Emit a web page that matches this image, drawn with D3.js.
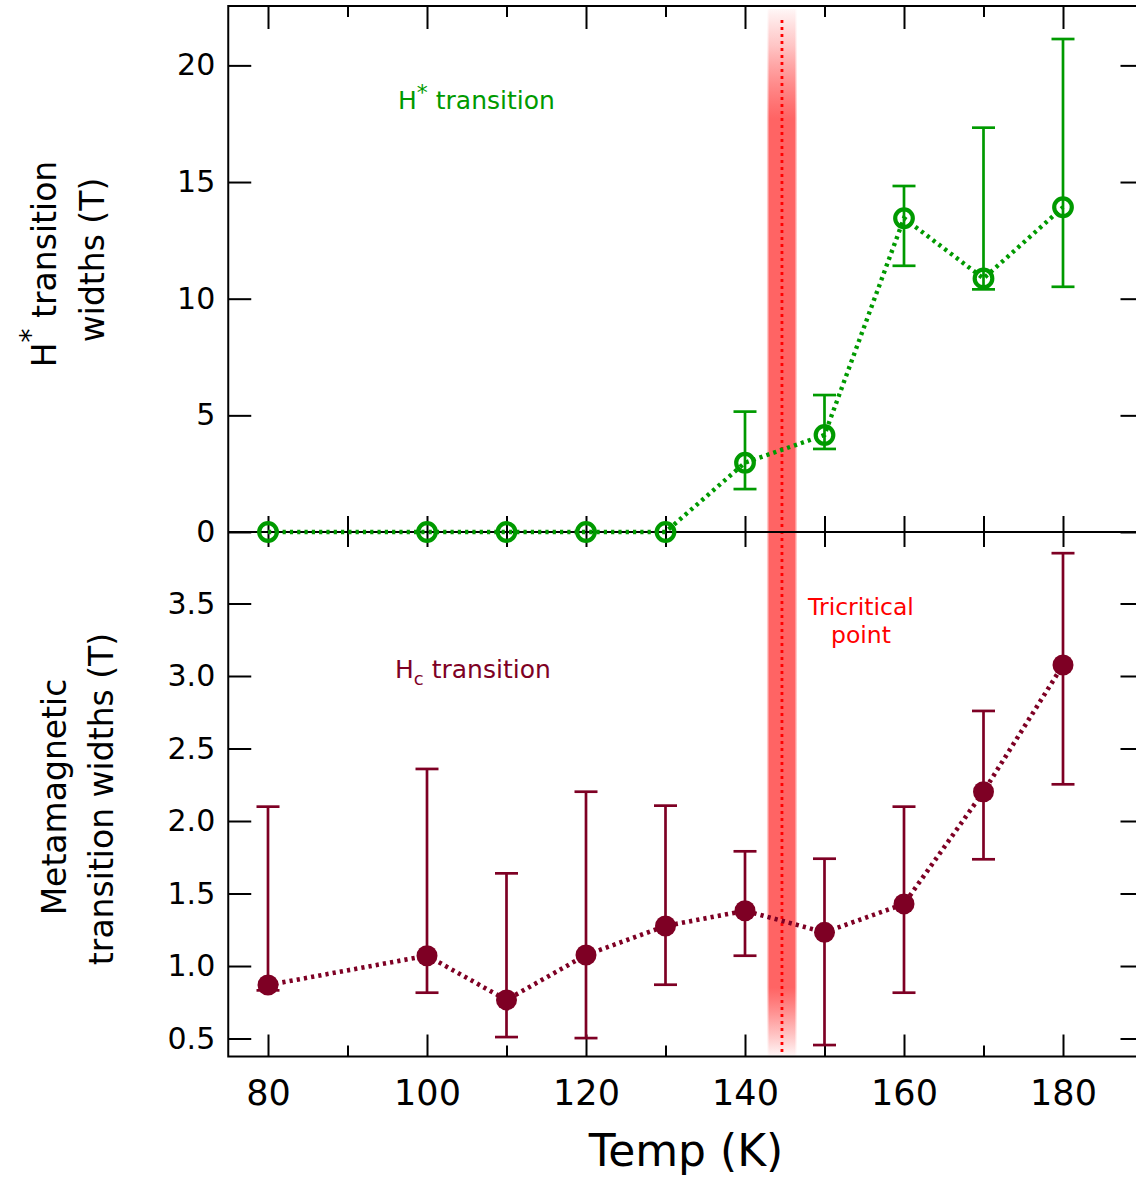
<!DOCTYPE html>
<html><head><meta charset="utf-8">
<script src="https://cdn.jsdelivr.net/npm/d3@7"></script>
<style>body{margin:0;background:#fff} svg{display:block} text{font-family:"DejaVu Sans",sans-serif}</style>
</head><body><svg id="c" width="1136" height="1179"></svg>
<script>
// ---- data ----
const temps   = [80, 100, 110, 120, 130, 140, 150, 160, 170, 180];
const hStar   = [0, 0, 0, 0, 0, 2.97, 4.16, 13.45, 10.87, 13.92];
const hStarLo = [null, null, null, null, null, 1.84, 3.56, 11.41, 10.40, 10.51];
const hStarHi = [null, null, null, null, null, 5.16, 5.87, 14.83, 17.33, 21.13];
const hc      = [0.869, 1.071, 0.766, 1.076, 1.276, 1.381, 1.232, 1.428, 2.202, 3.076];
const hcLo    = [0.832, 0.816, 0.510, 0.503, 0.871, 1.071, 0.455, 0.816, 1.736, 2.253];
const hcHi    = [2.099, 2.359, 1.639, 2.202, 2.106, 1.791, 1.740, 2.099, 2.759, 3.847];
const tricritical = 144.65, tricriticalHalf = 1.7;
const xMajor = [80, 100, 120, 140, 160, 180];
const xMinor = [90, 110, 130, 150, 170];
const yTopTicks = [0, 5, 10, 15, 20];
const yBotTicks = [0.5, 1.0, 1.5, 2.0, 2.5, 3.0, 3.5];

const GREEN = "#009a00", DRED = "#7e0024", RED = "#ff0000";

const svg = d3.select("#c");
const L = 228.25, R = 1142.5, T = 6, M = 532, B = 1056.5;
const x = d3.scaleLinear().domain([75, 190]).range([L, R]);
const yTop = d3.scaleLinear().domain([0, 22.545]).range([M, T]);
const yBot = d3.scaleLinear().domain([0.376, 3.993]).range([B, M]);

// ---- band gradient ----
const defs = svg.append("defs");
const g = defs.append("linearGradient").attr("id", "bandGrad")
  .attr("x1", 0).attr("y1", 0).attr("x2", 0).attr("y2", 1);
[[0, 0.04], [0.035, 0.3], [0.07, 0.65], [0.105, 1], [0.935, 1], [0.97, 0.45], [1, 0.04]]
  .forEach(([o, a]) => g.append("stop").attr("offset", o).attr("stop-color", "#ff6464").attr("stop-opacity", a));

const bx0 = x(tricritical - tricriticalHalf), bx1 = x(tricritical + tricriticalHalf);
svg.append("rect").attr("x", bx0 - 1.5).attr("y", T + 3).attr("width", bx1 - bx0 + 3).attr("height", B - T - 4)
  .attr("fill", "url(#bandGrad)").attr("opacity", 0.35);
svg.append("rect").attr("x", bx0).attr("y", T + 3).attr("width", bx1 - bx0).attr("height", B - T - 4)
  .attr("fill", "url(#bandGrad)");
svg.append("line").attr("x1", x(tricritical)).attr("x2", x(tricritical)).attr("y1", 20).attr("y2", B)
  .attr("stroke", RED).attr("stroke-width", 2.8).attr("stroke-dasharray", "3,4");

// ---- axes ----
function styleAxis(sel) {
  sel.select(".domain").remove();
  sel.selectAll(".tick line").attr("stroke", "#000").attr("stroke-width", 2);
  sel.selectAll(".tick text").attr("fill", "#000");
}
svg.append("g").attr("transform", `translate(0,${T})`)
  .call(d3.axisTop(x).tickValues(xMajor).tickSize(-23).tickFormat("")).call(styleAxis);
svg.append("g").attr("transform", `translate(0,${T})`)
  .call(d3.axisTop(x).tickValues(xMinor).tickSize(-11).tickFormat("")).call(styleAxis);
svg.append("g").attr("transform", `translate(0,${M})`)
  .call(d3.axisBottom(x).tickValues(xMajor.concat(xMinor)).tickSize(15).tickFormat("")).call(styleAxis);
svg.append("g").attr("transform", `translate(0,${M})`)
  .call(d3.axisTop(x).tickValues(xMajor.concat(xMinor)).tickSize(16).tickFormat("")).call(styleAxis);
const bAx = svg.append("g").attr("transform", `translate(0,${B})`)
  .call(d3.axisBottom(x).tickValues(xMajor).tickSize(-22).tickPadding(24).tickFormat(d3.format("d")));
styleAxis(bAx);
bAx.selectAll(".tick text").attr("font-size", 35).attr("font-family", "DejaVu Sans");
svg.append("g").attr("transform", `translate(0,${B})`)
  .call(d3.axisBottom(x).tickValues(xMinor).tickSize(-11).tickFormat("")).call(styleAxis);
const lt = svg.append("g").attr("transform", `translate(${L},0)`)
  .call(d3.axisLeft(yTop).tickValues(yTopTicks).tickSize(-23).tickPadding(13).tickFormat(d3.format("d")));
styleAxis(lt);
lt.selectAll(".tick text").attr("font-size", 30).attr("font-family", "DejaVu Sans");
const lb = svg.append("g").attr("transform", `translate(${L},0)`)
  .call(d3.axisLeft(yBot).tickValues(yBotTicks).tickSize(-23).tickPadding(13).tickFormat(d3.format(".1f")));
styleAxis(lb);
lb.selectAll(".tick text").attr("font-size", 30).attr("font-family", "DejaVu Sans");
svg.append("g").attr("transform", `translate(${R},0)`)
  .call(d3.axisRight(yTop).tickValues(yTopTicks).tickSize(-22).tickFormat("")).call(styleAxis);
svg.append("g").attr("transform", `translate(${R},0)`)
  .call(d3.axisRight(yBot).tickValues(yBotTicks).tickSize(-22).tickFormat("")).call(styleAxis);

svg.append("rect").attr("x", L).attr("y", T).attr("width", R - L).attr("height", B - T)
  .attr("fill", "none").attr("stroke", "#000").attr("stroke-width", 2);
svg.append("line").attr("x1", L).attr("x2", R).attr("y1", M).attr("y2", M)
  .attr("stroke", "#000").attr("stroke-width", 2);

// ---- top series ----
const topData = temps.map((t, i) => ({t, v: hStar[i], lo: hStarLo[i], hi: hStarHi[i]}));
svg.append("path").datum(topData)
  .attr("d", d3.line().x(d => x(d.t)).y(d => yTop(d.v)))
  .attr("fill", "none").attr("stroke", GREEN).attr("stroke-width", 4.4).attr("stroke-dasharray", "3.2,4.1");
const topErr = svg.append("g").selectAll("g").data(topData.filter(d => d.lo !== null)).join("g")
  .attr("stroke", GREEN).attr("stroke-width", 2.7);
topErr.append("line").attr("x1", d => x(d.t)).attr("x2", d => x(d.t)).attr("y1", d => yTop(d.lo)).attr("y2", d => yTop(d.hi));
topErr.append("line").attr("x1", d => x(d.t) - 11.5).attr("x2", d => x(d.t) + 11.5).attr("y1", d => yTop(d.lo)).attr("y2", d => yTop(d.lo));
topErr.append("line").attr("x1", d => x(d.t) - 11.5).attr("x2", d => x(d.t) + 11.5).attr("y1", d => yTop(d.hi)).attr("y2", d => yTop(d.hi));
svg.append("g").selectAll("circle").data(topData).join("circle")
  .attr("cx", d => x(d.t)).attr("cy", d => yTop(d.v)).attr("r", 8.8)
  .attr("fill", "none").attr("stroke", GREEN).attr("stroke-width", 4.2);

// ---- bottom series ----
const botData = temps.map((t, i) => ({t, v: hc[i], lo: hcLo[i], hi: hcHi[i]}));
svg.append("path").datum(botData)
  .attr("d", d3.line().x(d => x(d.t)).y(d => yBot(d.v)))
  .attr("fill", "none").attr("stroke", DRED).attr("stroke-width", 4.6).attr("stroke-dasharray", "3.2,4.1");
const botErr = svg.append("g").selectAll("g").data(botData).join("g")
  .attr("stroke", DRED).attr("stroke-width", 2.7);
botErr.append("line").attr("x1", d => x(d.t)).attr("x2", d => x(d.t)).attr("y1", d => yBot(d.lo)).attr("y2", d => yBot(d.hi));
botErr.append("line").attr("x1", d => x(d.t) - 11.5).attr("x2", d => x(d.t) + 11.5).attr("y1", d => yBot(d.lo)).attr("y2", d => yBot(d.lo));
botErr.append("line").attr("x1", d => x(d.t) - 11.5).attr("x2", d => x(d.t) + 11.5).attr("y1", d => yBot(d.hi)).attr("y2", d => yBot(d.hi));
svg.append("g").selectAll("circle").data(botData).join("circle")
  .attr("cx", d => x(d.t)).attr("cy", d => yBot(d.v)).attr("r", 10.5).attr("fill", DRED);

// ---- annotations ----
const t1 = svg.append("text").attr("x", 398).attr("y", 109).attr("font-size", 25).attr("fill", GREEN);
t1.append("tspan").text("H");
t1.append("tspan").attr("dy", -9).attr("font-size", 22).text("*");
t1.append("tspan").attr("dy", 9).text(" transition");

const t2 = svg.append("text").attr("x", 395).attr("y", 678).attr("font-size", 25).attr("fill", DRED);
t2.append("tspan").text("H");
t2.append("tspan").attr("dy", 7).attr("font-size", 18).text("c");
t2.append("tspan").attr("dy", -7).text(" transition");

svg.append("text").attr("x", 861).attr("y", 615).attr("font-size", 23.5).attr("fill", RED)
  .attr("text-anchor", "middle").text("Tricritical");
svg.append("text").attr("x", 861).attr("y", 643).attr("font-size", 23.5).attr("fill", RED)
  .attr("text-anchor", "middle").text("point");

svg.append("text").attr("x", 686).attr("y", 1166).attr("font-size", 44).attr("text-anchor", "middle")
  .attr("fill", "#000").text("Temp (K)");

const yl1 = svg.append("text").attr("transform", "translate(56,264) rotate(-90)")
  .attr("font-size", 33).attr("text-anchor", "middle").attr("fill", "#000");
yl1.append("tspan").text("H");
yl1.append("tspan").attr("dy", -16).attr("font-size", 28).text("*");
yl1.append("tspan").attr("dy", 16).text("  transition");
svg.append("text").attr("transform", "translate(104,260) rotate(-90)")
  .attr("font-size", 33).attr("text-anchor", "middle").attr("fill", "#000").text("widths (T)");

svg.append("text").attr("transform", "translate(66,797) rotate(-90)")
  .attr("font-size", 33).attr("text-anchor", "middle").attr("fill", "#000").text("Metamagnetic");
svg.append("text").attr("transform", "translate(113,799) rotate(-90)")
  .attr("font-size", 33).attr("text-anchor", "middle").attr("fill", "#000").text("transition widths (T)");
</script></body></html>
